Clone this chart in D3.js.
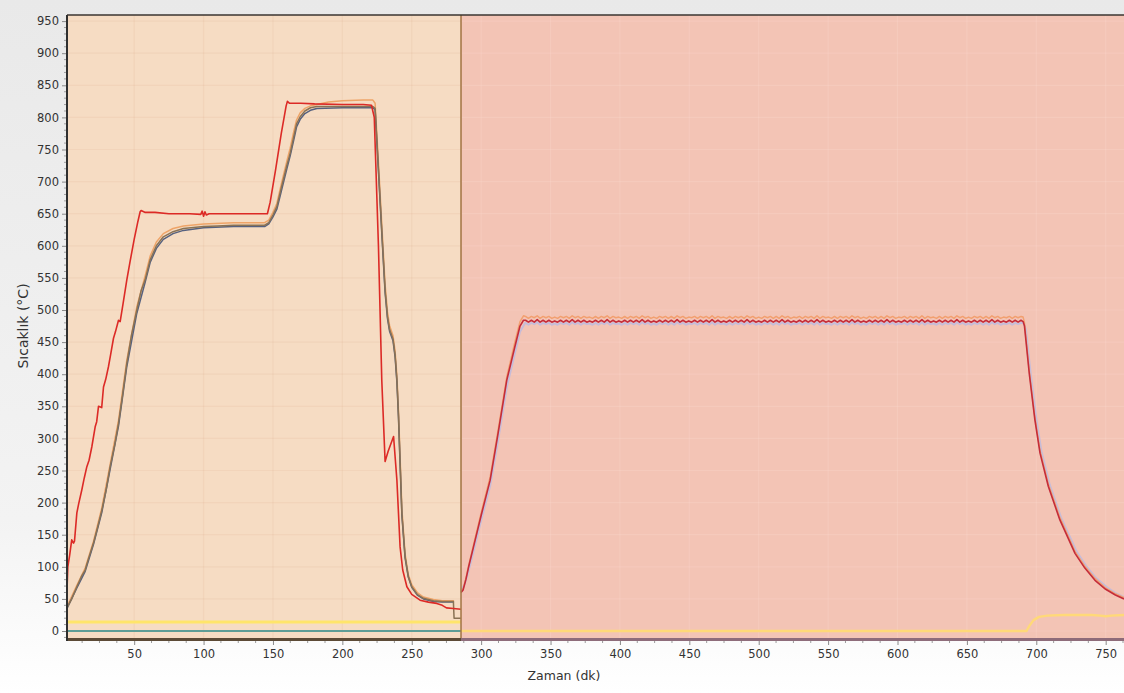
<!DOCTYPE html>
<html>
<head>
<meta charset="utf-8">
<script src="https://cdn.jsdelivr.net/npm/d3@7"></script>
<style>
  html, body { margin: 0; padding: 0; }
  body { width: 1124px; height: 693px; overflow: hidden; }
  svg text { font-family: "DejaVu Sans", Verdana, sans-serif; fill: #333; }
</style>
</head>
<body>
<svg id="chart" width="1124" height="693"></svg>
<script>
// ---- time axis (minutes) and temperature axis (°C) ----
const timeDomain = [1.6, 763.2];
const tempDomain = [-14, 959.5];
const timeTicks = [50, 100, 150, 200, 250, 300, 350, 400, 450, 500, 550, 600, 650, 700, 750];
const tempTicks = [0, 50, 100, 150, 200, 250, 300, 350, 400, 450, 500, 550, 600, 650, 700, 750, 800, 850, 900, 950];
const phaseBounds = [1.6, 285.5, 763.2];   // hardening | tempering

// ---- hardening phase: [minute, °C] ----
const hardenSet = [
  [1.6,64],[2.2,100],[3.5,118],[5,142],[6.3,137],[7,140],[8.7,184],[10,198],[12.3,220],[14,238],
  [15.9,256],[17.5,266],[19.5,287],[21.9,318],[23,326],[24.3,350],[26.6,348],[27.9,380],[29.5,392],
  [31.5,412],[33,430],[35.1,456],[36.5,466],[38.7,484],[39.9,482],[42,510],[44.7,547],[47,575],
  [50,610],[52.5,636],[54.3,653],[55,655],[58,652],[65,652],[75,650],[90,650],[98,649],[99,654],
  [100,646],[101,653],[102,648],[104,650],[120,650],[135,650],[146,650],[148,668],[152,720],
  [156,775],[159.5,818],[160.4,825],[162,822],[170,822],[180,821],[200,820],[215,820],[221,819],
  [223,800],[226,600],[228.4,391],[230.8,264],[233,280],[236.9,303],[239.3,235],[241.6,131],
  [243.5,95],[246.5,69],[250,57],[256,48],[262,45],[268,43],[272,40],[275,36],[280,35],[285.5,34]
];
const hardenOrange = [
  [1.6,38],[8.7,71],[14.7,98],[20.7,140],[26.7,192],[32.7,260],[38.7,328],[44.7,422],[51.9,505],
  [57.9,553],[61.5,584],[66,606],[71,619],[78,627],[85.5,631],[100,634],[121.6,636],[144,636],
  [147,640],[150,652],[152.8,666],[156,696],[160,732],[162.4,752],[165,778],[167,796],[169.6,807],
  [173,814],[177,818],[181.6,820],[190,824],[200,826],[215,827],[222,827],[223.6,822],[226,730],
  [228.5,630],[230.8,540],[232.5,497],[234,476],[236.5,460],[238,436],[239.3,398],[240.4,345],
  [241.5,278],[242.9,190],[245.2,120],[247.5,88],[250,72],[254,60],[258.4,53],[265.6,49],[272,47],
  [279,47],[280.5,47]
];
const hardenBlue = [
  [1.6,35],[8.7,67],[14.7,93],[20.7,135],[26.7,185],[32.7,252],[38.7,319],[44.7,412],[51.9,495],
  [57.9,543],[61.5,574],[66,596],[71,610],[78,619],[85.5,624],[100,628],[121.6,630],[144,630],
  [147,634],[150,645],[152.8,657],[156,685],[160,720],[162.4,740],[165,765],[167,785],[169.6,797],
  [173,806],[177,811],[181.6,814],[200,815],[215,815],[222,815],[223.6,812],[226,716],[228.5,616],
  [230.8,527],[232.5,487],[234,467],[236.5,452],[238,427],[239.3,388],[240.4,335],[241.5,266],
  [242.9,180],[245.2,114],[247.5,84],[250,68],[254,56],[258.4,50],[265.6,46],[272,45],[279,45],
  [280.5,45]
];
const hardenBrown = [
  [1.6,36],[5,50],[8.7,69],[12,85],[14.7,95],[17,112],[20.7,137],[23.5,160],[26.7,188],[30,222],
  [32.7,256],[36,290],[38.7,323],[41.5,365],[44.7,417],[48,460],[51.9,500],[55,530],[57.9,547],
  [61.5,578],[66,600],[71,614],[78,622],[85.5,627],[100,630],[110,631],[121.6,632],[135,632],
  [144,632],[147,636],[150,648],[152.8,661],[156,690],[160,725],[162.4,744],[165,770],[167,790],
  [169.6,801],[173,810],[177,815],[181.6,817],[200,817],[215,817],[222,817],[223.6,814],[226,720],
  [228.5,620],[230.8,531],[232.5,490],[234,470],[236.5,455],[238,430],[239.3,391],[240.4,339],
  [241.5,270],[242.9,183],[245.2,116],[247.5,85],[250,69],[254,57],[258.4,51],[265.6,47],[272,46],
  [279,46],[280,46],[280.5,20],[285.5,20]
];
const hardenYellow = [[1.6,14],[285.5,14]];
const hardenTeal = [[1.6,0],[285.5,0]];

// ---- tempering phase: ramp, soak (sampled every 2.1 min from 332), cooling ----
const soakStart = 332, soakStep = 2.1;

const temperSetRamp = [
  [285.5,60],[287,64],[289,80],[291,100],[294.5,131],[300,180],[306.5,235],[312,305],[318.5,391],
  [324,440],[328,475],[330.5,484]
];
const temperSetSoak = [
  484,481,484,481,485,481,484,481,484,481,483,481,484,481,484,481,485,481,484,481,
  484,481,483,481,484,481,484,481,485,481,484,481,483,481,484,481,484,481,484,481,
  485,481,484,481,483,481,484,481,484,481,484,481,485,481,484,481,483,481,484,481,
  484,481,484,481,485,481,484,481,483,481,484,481,484,481,484,481,485,481,484,481,
  483,481,484,481,484,481,484,481,485,481,484,481,483,481,484,481,484,481,484,481,
  485,481,484,481,483,481,484,481,484,481,484,481,485,481,484,481,483,481,484,481,
  484,481,484,481,485,481,484,481,483,481,484,481,484,481,484,481,485,481,484,481,
  483,481,484,481,484,481,484,481,485,481,484,481,483,481,484,481,484,481,484,481,
  485,481,484,481,483,481,484,481,484,481,484
];
const temperSetCool = [
  [690.5,482],[691.5,475],[695,400],[699,329],[702.7,277],[708.7,225],[717,173],[727.9,121],
  [735,98],[742.3,79],[750,65],[757,56],[763.2,50]
];

const temperOrangeRamp = [
  [285.5,62],[287,66],[289,82],[291,102],[294.5,134],[300,184],[306.5,240],[312,310],[318.5,396],
  [324,447],[328,482],[330.5,491]
];
const temperOrangeSoak = [
  490,487,490,488,491,487,490,488,490,487,489,487,490,488,490,487,491,488,490,487,
  490,488,489,487,490,487,490,488,491,487,490,488,489,487,490,487,490,488,490,487,
  491,488,490,487,489,487,490,488,490,487,490,487,491,488,490,487,489,488,490,487,
  490,488,490,487,491,487,490,488,489,487,490,487,490,488,490,487,491,488,490,487,
  489,487,490,488,490,487,490,487,491,488,490,487,489,488,490,487,490,488,490,487,
  491,487,490,488,489,487,490,487,490,488,490,487,491,488,490,487,489,487,490,488,
  490,487,490,487,491,488,490,487,489,488,490,487,490,488,490,487,491,487,490,488,
  489,487,490,487,490,488,490,487,491,488,490,487,489,487,490,488,490,487,490,487,
  491,488,490,487,489,488,490,487,490,488,490
];
const temperOrangeCool = [
  [690.5,489],[691.5,480],[695,404],[699,333],[702.7,281],[708.7,229],[717,177],[727.9,124],
  [735,101],[742.3,82],[750,67],[757,58],[763.2,52]
];

const temperLavRamp = [
  [285.5,64],[288,72],[291,94],[294.5,124],[300,172],[306.5,226],[312,294],[318.5,380],
  [324,430],[328,466],[331.5,479]
];
const temperLavSoak = [
  480,477,480,478,481,477,480,478,480,477,479,477,480,478,480,477,481,478,480,477,
  480,478,479,477,480,477,480,478,481,477,480,478,479,477,480,477,480,478,480,477,
  481,478,480,477,479,477,480,478,480,477,480,477,481,478,480,477,479,478,480,477,
  480,478,480,477,481,477,480,478,479,477,480,477,480,478,480,477,481,478,480,477,
  479,477,480,478,480,477,480,477,481,478,480,477,479,478,480,477,480,478,480,477,
  481,477,480,478,479,477,480,477,480,478,480,477,481,478,480,477,479,477,480,478,
  480,477,480,477,481,478,480,477,479,478,480,477,480,478,480,477,481,477,480,478,
  479,477,480,477,480,478,480,477,481,478,480,477,479,477,480,478,480,477,480,477,
  481,478,480,477,479,478,480,477,480,478,480
];
const temperLavCool = [
  [691,479],[692.5,470],[696,400],[700,331],[703.7,280],[709.7,228],[718,176],[729,124],
  [736,101],[743.3,82],[751,68],[758,58],[763.2,53]
];

const temperYellow = [
  [285.5,0],[693,0],[695,8],[698,17],[702,22],[708,24],[720,25],[740,25],[746,24],[750,23],
  [754,24],[763.2,25]
];

// ---- layout ----
const svg = d3.select("#chart");
const W = 1124, H = 693;
const plot = { left: 67, right: 1124, top: 15, bottom: 640 };

const x = d3.scaleLinear().domain(timeDomain).range([plot.left, plot.right]);
const y = d3.scaleLinear().domain(tempDomain).range([plot.bottom, plot.top]);

const defs = svg.append("defs");
const bgGrad = defs.append("linearGradient").attr("id", "pageBg")
  .attr("x1", 0).attr("y1", 0).attr("x2", 0).attr("y2", 1);
bgGrad.append("stop").attr("offset", "0%").attr("stop-color", "#e9e9e9");
bgGrad.append("stop").attr("offset", "75%").attr("stop-color", "#f3f3f3");
bgGrad.append("stop").attr("offset", "100%").attr("stop-color", "#ffffff");
defs.append("clipPath").attr("id", "plotClip").append("rect")
  .attr("x", plot.left).attr("y", plot.top)
  .attr("width", plot.right - plot.left).attr("height", plot.bottom - plot.top);

svg.append("rect").attr("width", W).attr("height", H).attr("fill", "url(#pageBg)");

// phase backgrounds
const phaseFill = ["#f6dcc3", "#f3c4b5"];
const phaseGrid = ["rgba(205,150,105,0.10)", "rgba(255,225,215,0.22)"];
const phases = d3.pairs(phaseBounds);
svg.selectAll("rect.phase").data(phases).join("rect")
  .attr("class", "phase")
  .attr("x", d => x(d[0])).attr("y", plot.top)
  .attr("width", d => x(d[1]) - x(d[0])).attr("height", plot.bottom - plot.top)
  .attr("fill", (d, i) => phaseFill[i]);

// grid, drawn per phase so the tint follows the background
const gridG = svg.append("g").attr("clip-path", "url(#plotClip)");
phases.forEach((p, i) => {
  const g = gridG.append("g");
  g.selectAll("line.h").data(tempTicks).join("line")
    .attr("x1", x(p[0])).attr("x2", x(p[1]))
    .attr("y1", d => y(d)).attr("y2", d => y(d))
    .attr("stroke", phaseGrid[i]).attr("stroke-width", 1.2);
  g.selectAll("line.v").data(timeTicks.filter(t => t > p[0] && t < p[1])).join("line")
    .attr("x1", d => x(d)).attr("x2", d => x(d))
    .attr("y1", plot.top).attr("y2", plot.bottom)
    .attr("stroke", phaseGrid[i]).attr("stroke-width", 1.2);
});

// series
const line = d3.line().x(d => x(d[0])).y(d => y(d[1]));
const soakPoints = vals => vals.map((v, i) => [soakStart + i * soakStep, v]);

const series = [
  { data: hardenYellow, color: "#ffe56a", width: 3.2 },
  { data: hardenTeal, color: "#5e9d96", width: 1.8 },
  { data: temperYellow, color: "#ffd978", width: 2.4 },
  { data: hardenOrange, color: "#eea468", width: 1.5 },
  { data: hardenBlue, color: "#56617f", width: 1.5 },
  { data: hardenBrown, color: "#8a7254", width: 1.5 },
  { data: hardenSet, color: "#dc2a26", width: 1.6 },
  { data: temperLavRamp.concat(soakPoints(temperLavSoak), temperLavCool), color: "#c6bcd9", width: 2 },
  { data: temperOrangeRamp.concat(soakPoints(temperOrangeSoak), temperOrangeCool), color: "#f2a070", width: 1.5 },
  { data: temperSetRamp.concat(soakPoints(temperSetSoak), temperSetCool), color: "#c42c3a", width: 1.6 }
];

const seriesG = svg.append("g").attr("clip-path", "url(#plotClip)");
seriesG.selectAll("path").data(series).join("path")
  .attr("d", d => line(d.data))
  .attr("fill", "none")
  .attr("stroke", d => d.color)
  .attr("stroke-width", d => d.width)
  .attr("stroke-linejoin", "round");

// phase divider
svg.append("line")
  .attr("x1", x(phaseBounds[1])).attr("x2", x(phaseBounds[1]))
  .attr("y1", plot.top).attr("y2", plot.bottom)
  .attr("stroke", "#a7794a").attr("stroke-width", 1.6);

// frame: top edge, bottom edge, left axis line
svg.append("line").attr("x1", plot.left).attr("x2", plot.right)
  .attr("y1", plot.top).attr("y2", plot.top)
  .attr("stroke", "#3a3530").attr("stroke-width", 1.5);
svg.append("line").attr("x1", plot.left).attr("x2", x(phaseBounds[1]))
  .attr("y1", plot.bottom - 0.5).attr("y2", plot.bottom - 0.5)
  .attr("stroke", "#5c4a36").attr("stroke-width", 3);
svg.append("line").attr("x1", x(phaseBounds[1])).attr("x2", plot.right)
  .attr("y1", plot.bottom - 0.5).attr("y2", plot.bottom - 0.5)
  .attr("stroke", "#8e6c7a").attr("stroke-width", 3);

// axes
const xAxis = d3.axisBottom(x).tickValues(timeTicks).tickSize(4).tickPadding(5);
const xg = svg.append("g").attr("transform", `translate(0,${plot.bottom + 1})`).call(xAxis);
xg.select(".domain").remove();
xg.selectAll(".tick line").attr("stroke", "#8a8a8a");
xg.selectAll(".tick text").attr("font-size", 11.5).attr("fill", "#333");

const xMinor = d3.range(12.5, 763, 12.5).filter(t => t % 50 !== 0 && t > timeDomain[0]);
svg.append("g").selectAll("line").data(xMinor).join("line")
  .attr("x1", d => x(d)).attr("x2", d => x(d))
  .attr("y1", plot.bottom + 1).attr("y2", plot.bottom + 3)
  .attr("stroke", "#9a9a9a");

const yAxis = d3.axisLeft(y).tickValues(tempTicks).tickSize(4).tickPadding(3);
const yg = svg.append("g").attr("transform", `translate(${plot.left - 1},0)`).call(yAxis);
yg.select(".domain").remove();
yg.selectAll(".tick line").attr("stroke", "#8a8a8a");
yg.selectAll(".tick text").attr("font-size", 11.5).attr("fill", "#333");

const yMinor = d3.range(-10, 960, 10).filter(v => v % 50 !== 0);
svg.append("g").selectAll("line").data(yMinor).join("line")
  .attr("x1", plot.left - 3).attr("x2", plot.left - 1)
  .attr("y1", d => y(d)).attr("y2", d => y(d))
  .attr("stroke", "#a0a0a0");

svg.append("line").attr("x1", plot.left).attr("x2", plot.left)
  .attr("y1", plot.top).attr("y2", plot.bottom + 1)
  .attr("stroke", "#2f2f2f").attr("stroke-width", 2);

// axis titles
svg.append("text").attr("x", 564).attr("y", 680)
  .attr("text-anchor", "middle").attr("font-size", 12.5).text("Zaman (dk)");
svg.append("text").attr("transform", "translate(28,326) rotate(-90)")
  .attr("text-anchor", "middle").attr("font-size", 14).text("Sıcaklık (°C)");
</script>
</body>
</html>
